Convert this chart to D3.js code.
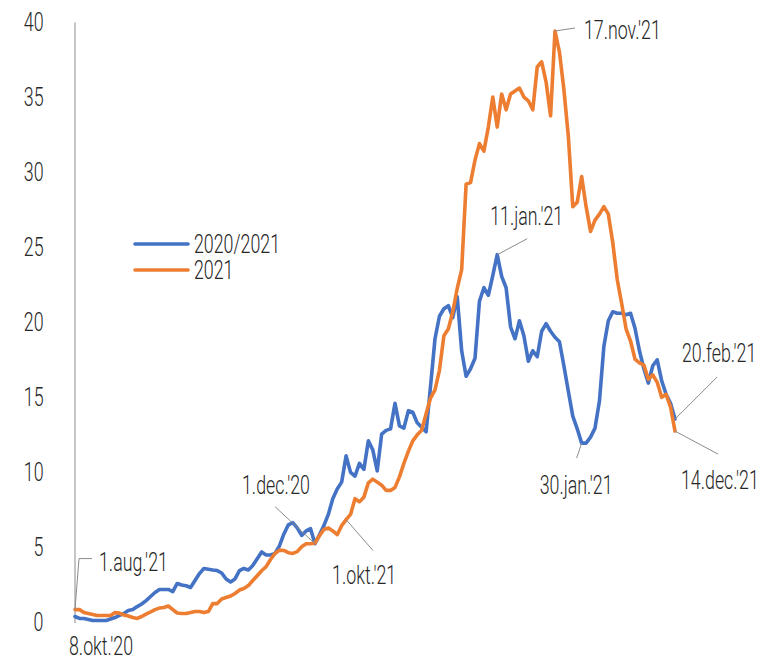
<!DOCTYPE html>
<html>
<head>
<meta charset="utf-8">
<script src="https://cdn.jsdelivr.net/npm/d3@7"></script>
<style>
  html, body { margin: 0; padding: 0; background: #fff; }
  svg { display: block; }
  text { font-family: "Roboto", "Liberation Sans", sans-serif; font-weight: 300; fill: #262626; }
</style>
</head>
<body>
<svg id="chart" width="761" height="666"></svg>
<script>
// ---- data ----
const seriesNames = ["2020/2021", "2021"];
const yTicks = [0, 5, 10, 15, 20, 25, 30, 35, 40];

// 8.okt.'20 -> 20.feb.'21 (daily)
const blueValues = [
  0.40, 0.27, 0.27, 0.20, 0.13, 0.13, 0.13, 0.13, 0.23, 0.33,
  0.47, 0.60, 0.80, 0.86, 1.06, 1.23, 1.46, 1.73, 2.00, 2.20,
  2.20, 2.20, 2.06, 2.60, 2.50, 2.45, 2.33, 2.80, 3.26, 3.60,
  3.55, 3.50, 3.46, 3.30, 2.90, 2.70, 2.90, 3.45, 3.60, 3.50,
  3.80, 4.25, 4.70, 4.50, 4.50, 4.60, 5.10, 5.90, 6.50, 6.65,
  6.30, 5.80, 6.10, 6.25, 5.25, 5.85, 6.45, 7.20, 8.25, 8.90,
  9.35, 11.10, 10.00, 9.75, 10.60, 10.20, 12.10, 11.50, 10.10, 12.55,
  12.80, 12.90, 14.60, 13.10, 12.95, 14.10, 14.00, 13.30, 13.00, 12.70,
  15.75, 18.90, 20.40, 20.90, 21.10, 20.30, 21.70, 18.10, 16.40, 16.90,
  17.60, 21.40, 22.30, 21.80, 23.10, 24.50, 23.05, 22.30, 19.70, 18.90,
  20.10, 19.10, 17.40, 18.10, 17.70, 19.40, 19.90, 19.40, 19.00, 18.70,
  17.10, 15.40, 13.75, 12.90, 11.95, 11.95, 12.35, 12.95, 14.75, 18.40,
  20.10, 20.70, 20.60, 20.60, 20.50, 20.60, 19.60, 18.10, 16.90, 15.95,
  17.10, 17.50, 16.10, 15.20, 14.60, 13.55
];

// 1.aug.'21 -> 14.dec.'21 (daily)
const orangeValues = [
  0.86, 0.86, 0.66, 0.60, 0.53, 0.47, 0.47, 0.47, 0.47, 0.66,
  0.63, 0.50, 0.43, 0.33, 0.27, 0.40, 0.56, 0.70, 0.86, 0.96,
  1.00, 1.10, 0.86, 0.63, 0.60, 0.60, 0.66, 0.73, 0.73, 0.66,
  0.73, 1.26, 1.26, 1.56, 1.66, 1.76, 1.93, 2.16, 2.26, 2.46,
  2.80, 3.12, 3.45, 3.72, 4.20, 4.60, 4.82, 4.80, 4.65, 4.60,
  4.72, 5.05, 5.25, 5.25, 5.30, 5.78, 6.20, 6.30, 6.10, 5.85,
  6.45, 6.85, 7.20, 8.25, 8.05, 8.35, 9.30, 9.55, 9.35, 9.15,
  8.80, 8.80, 9.00, 9.70, 10.60, 11.40, 12.10, 12.50, 12.80, 13.90,
  14.95, 15.50, 16.80, 19.10, 19.55, 20.70, 22.25, 23.50, 29.20, 29.30,
  30.80, 31.90, 31.40, 33.00, 35.00, 33.00, 35.20, 34.15, 35.20, 35.40,
  35.60, 35.00, 34.75, 34.15, 37.00, 37.35, 36.00, 33.75, 39.40, 38.00,
  35.50, 32.40, 27.70, 28.00, 29.70, 27.70, 26.05, 26.80, 27.20, 27.70,
  27.20, 25.30, 22.85, 21.25, 19.55, 18.75, 17.55, 17.30, 17.15, 16.20,
  16.50, 16.00, 15.00, 15.20, 14.35, 12.75
];

// annotation labels: text, series, day index
const annotationTexts = ["8.okt.'20", "1.aug.'21", "1.dec.'20", "1.okt.'21", "11.jan.'21", "17.nov.'21", "30.jan.'21", "20.feb.'21", "14.dec.'21"];
const annotationSeries = [0, 1, 0, 1, 0, 1, 0, 0, 1];
const annotationIndex = [0, 0, 54, 61, 95, 108, 114, 135, 135];

// ---- layout ----
const svg = d3.select("#chart");
const colors = ["#4472C4", "#ED7D31"];
const x = d3.scaleLinear().domain([0, blueValues.length - 1]).range([75, 675]);
const y = d3.scaleLinear().domain([0, 40]).range([622.5, 22]);
const FS = 25;

function condense(sel, f) {
  sel.each(function () {
    const len = this.getComputedTextLength();
    d3.select(this).attr("textLength", len * f).attr("lengthAdjust", "spacingAndGlyphs");
  });
}
const probe = svg.append("text").attr("font-size", FS).text("1.dec.'20");
const F = 68 / probe.node().getComputedTextLength();
probe.remove();

// condensed text placed via transform (scaled horizontally)
function ctext(parent, tx, ty, str, size, anchor, f) {
  return parent.append("text")
    .attr("transform", `translate(${tx},${ty}) scale(${f},1)`)
    .attr("x", 0).attr("y", 0).attr("dy", "0.35em")
    .attr("text-anchor", anchor || "start")
    .attr("font-size", size).text(str);
}

// y axis
const yAxis = d3.axisLeft(y).tickValues(yTicks).tickSize(0).tickSizeOuter(0).tickPadding(31);
const gy = svg.append("g").attr("transform", "translate(74.5,0)").call(yAxis);
gy.select(".domain").attr("stroke", "#a6a6a6").attr("stroke-width", 1.3);
gy.selectAll(".tick text").attr("font-size", FS).attr("fill", "#262626")
  .style("font-family", '"Roboto", "Liberation Sans", sans-serif').style("font-weight", 300)
  .call(condense, F);

// lines
const line = d3.line().x((d, i) => x(i)).y(d => y(d)).curve(d3.curveLinear);
const allSeries = [blueValues, orangeValues];
[0, 1].forEach(s => {
  svg.append("path").datum(allSeries[s])
    .attr("fill", "none").attr("stroke", colors[s])
    .attr("stroke-width", 3.6).attr("stroke-linejoin", "round").attr("stroke-linecap", "round")
    .attr("d", line);
});

// legend
const legend = svg.append("g");
seriesNames.forEach((name, k) => {
  const ly = 244 + k * 26;
  legend.append("line").attr("x1", 135).attr("x2", 188).attr("y1", ly).attr("y2", ly)
    .attr("stroke", colors[k]).attr("stroke-width", 3.6).attr("stroke-linecap", "round");
  ctext(legend, 194, ly, name, FS, "start", F);
});

// annotations
const leaderOffsets = [null, [[4, -51], [17, -51]], [-40, -37], [27, 31], [30, -16], [20, -3], [-5, 15], [42, -42], [43, 23]];
const textOffsets = [[-6, 30], [24, -47], [-73, -58], [-14, 56], [-7, -38], [29, -1], [-42, 42], [7, -66], [6, 49]];
const ann = svg.append("g");
annotationTexts.forEach((t, k) => {
  const vals = allSeries[annotationSeries[k]];
  const px = x(annotationIndex[k]);
  const py = y(vals[annotationIndex[k]]);
  const lo = leaderOffsets[k];
  if (lo) {
    const pts = Array.isArray(lo[0]) ? [[px, py]].concat(lo.map(o => [px + o[0], py + o[1]])) : [[px, py], [px + lo[0], py + lo[1]]];
    ann.append("path").attr("d", d3.line()(pts)).attr("fill", "none")
      .attr("stroke", "#8c8c8c").attr("stroke-width", 1);
  }
  const to = textOffsets[k];
  ctext(ann, px + to[0], py + to[1], t, FS, "start", F);
});
</script>
</body>
</html>
